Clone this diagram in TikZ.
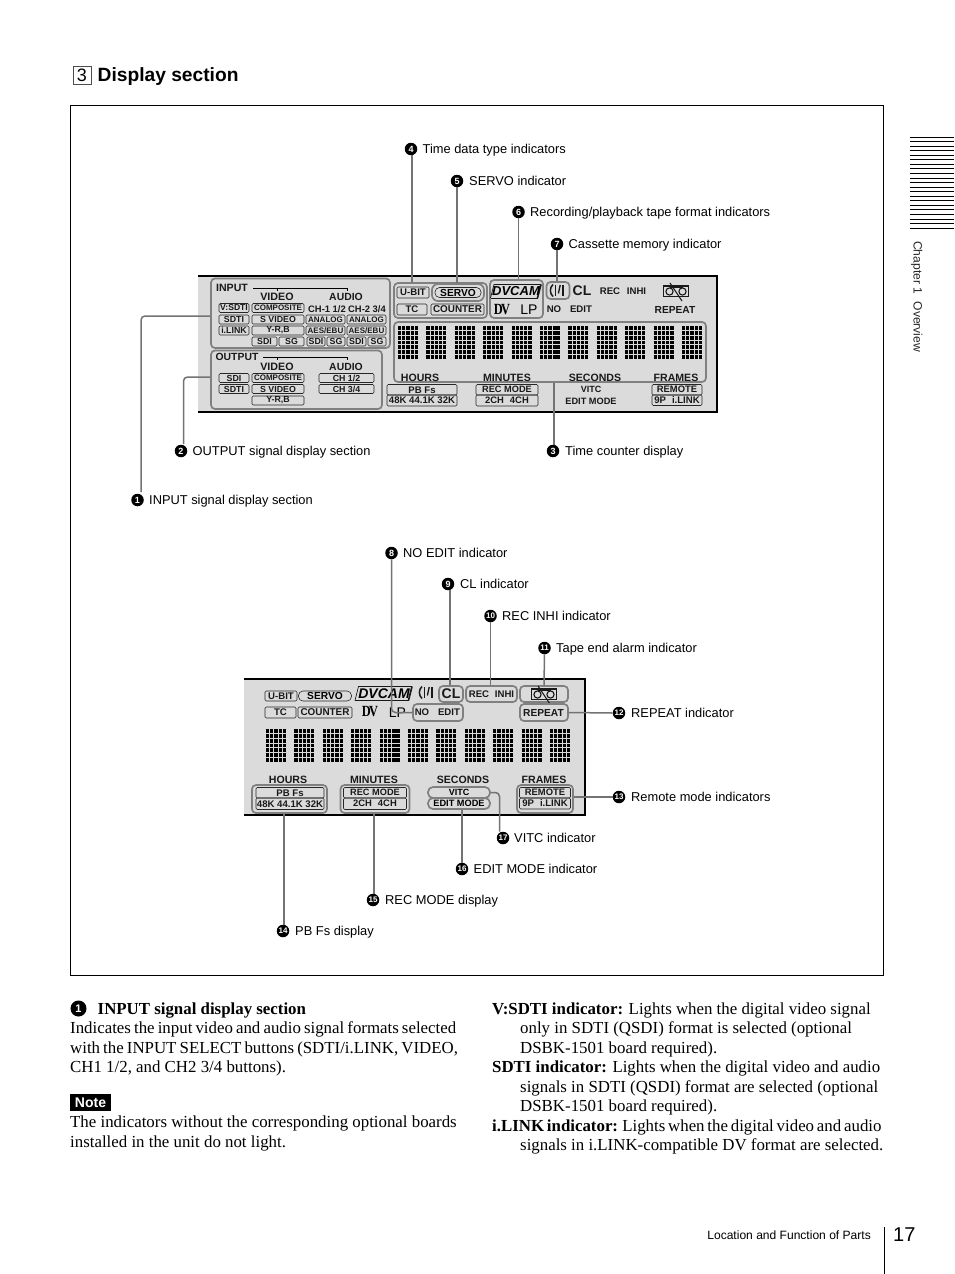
\documentclass[tikz,border=0pt]{standalone}
\usepackage{fontspec}
\setmainfont{Liberation Serif}
\setsansfont{Liberation Sans}
\newcommand{\fsz}[1]{\fontsize{#1}{#1}\selectfont}
\newcommand{\sbf}[1]{\sffamily\bfseries\fsz{#1}}
\newcommand{\tightsp}[1]{\spaceskip #1pt\relax}
\tikzset{
  dispbox/.style={draw=black!85,line width=0.6pt,rounded corners=1.2pt,inner sep=0pt,fill=none,text=black!90,font=\sbf{8.8}},
  grp/.style={draw=black!50,line width=1.7pt,rounded corners=4pt,inner sep=0pt},
  stad/.style={draw=black!85,line width=0.6pt,rounded corners=4.5pt,inner sep=0pt,font=\sbf{10.2}},
  dlabel/.style={inner sep=0pt,text=black!90,font=\sbf{9.6}},
  bigl/.style={inner sep=0pt,text=black!90,font=\sbf{10.6}},
  leader/.style={draw=black!55,line width=1.5pt,rounded corners=4pt},
  numc/.style={circle,fill=black,text=white,inner sep=0pt,minimum size=12.5pt,font=\sbf{9}},
  numcc/.style={numc,font=\sbf{8}},
  call/.style={anchor=base west,inner sep=0pt,font=\sffamily\fsz{12.85}},
  body/.style={anchor=base west,inner sep=0pt,font=\fsz{16.85}},
  frameline/.style={draw=black,line width=0.9pt},
  dotrow/.style={line width=3.9pt,dash pattern=on 3.25pt off 0.95pt,black},
  panelbg/.style={fill=black!14,draw=none},
  edgeline/.style={draw=black,line width=1.3pt}
}
% name, x1, y1, x2, y2, text
\newcommand{\bx}[7][]{%
  \pgfmathsetmacro{\bw}{#5-#3}\pgfmathsetmacro{\bh}{#6-#4}%
  \node[dispbox,minimum width=\bw pt,minimum height=\bh pt,#1] (#2) at ({(#3+#5)/2},{(#4+#6)/2}) {#7};}
\newcommand{\gp}[6][grp]{%
  \pgfmathsetmacro{\bw}{#5-#3}\pgfmathsetmacro{\bh}{#6-#4}%
  \node[#1,minimum width=\bw pt,minimum height=\bh pt] (#2) at ({(#3+#5)/2},{(#4+#6)/2}) {};}
% digit at x,y ; #3 = 1 when right part solid
\newcommand{\digit}[3]{%
  \foreach \r in {0,...,6}{%
    \draw[dotrow] (#1,{#2+1.95+\r*4.85}) -- ++(20.2,0);
    \ifnum#3=1 \fill[black] ({#1+12.6},{#2+\r*4.85}) rectangle ++(7.6,3.9);\fi
  }}
\newcommand{\cmglyph}[2]{%
  \begin{scope}[shift={(#1,#2)}]
    \draw[line width=1.5pt,black!90] (-5,-6) .. controls (-8.5,-3) and (-8.5,3) .. (-5,6);
    \draw[line width=1.3pt,black!90] (-2.6,-5.5) -- (-2.6,5.5);
    \draw[line width=1.3pt,black!90] (2.2,-5.5) -- (0.4,3);
    \draw[line width=1.3pt,black!90] (5,-5.5) -- (5,5.5);
  \end{scope}}
\newcommand{\tapeicon}[2]{%
  \begin{scope}[shift={(#1,#2)}]
    \draw[line width=1.1pt,black!90] (-12.5,-5) rectangle (12.5,5.5);
    \draw[line width=1.1pt,black!90] (-6.5,0.5) circle (3.6pt);
    \draw[line width=1.1pt,black!90] (6.5,0.5) circle (3.6pt);
    \draw[line width=1.1pt,black!90] (-6.5,-3.1) -- (6.5,-3.1);
    \draw[line width=1pt,black!90] (-6,-8) -- (6,10);
  \end{scope}}
\begin{document}
\begin{tikzpicture}[x=1pt,y=-1pt]
\useasboundingbox[fill=white] (0,0) rectangle (954,1274);

% heading
\node[draw=black!70,line width=0.9pt,minimum width=18pt,minimum height=18pt,inner sep=0pt,font=\sffamily\fsz{18}] (secno) at (82,75) {3};
\node[anchor=base west,inner sep=0pt,font=\sbf{19.2}] (sectitle) at (97.5,81.5) {Display section};

% frame
\node[frameline,draw,minimum width=813pt,minimum height=870pt,inner sep=0pt] (outer) at (477,540) {};

% side tab
\foreach \k in {0,...,20}{\draw[black,line width=0.8pt] (910,{137+\k*4.55}) -- (954,{137+\k*4.55});}
\node[rotate=-90,anchor=base west,inner sep=0pt,font=\sffamily\fsz{12.1},text=black!85] (chap) at (913.5,241) {Chapter 1\hspace{4pt} Overview};

% ==== top panel
\fill[panelbg] (198,276) rectangle (717,412);
\draw[edgeline] (198,276) -- (717,276) -- (717,412) -- (198,412);

\gp{inputgrp}{211}{278.5}{390}{348}
\gp{outputgrp}{211}{350.5}{382}{409}
\gp{tcgrp}{394}{283}{487}{318}
\gp{tapefmt}{490}{280}{543}{318}
\gp{cmgrp}{546.5}{282}{569.5}{299}
\gp{timegrp}{394}{322}{706}{382}

\node[dlabel,font=\sbf{10.6}] (tinput) at (232,287.5) {INPUT};
\draw[black,line width=0.5pt] (253,288) -- (347,288) -- (347,290.5);
\draw[black,line width=0.5pt] (277,288) -- (277,290.5);
\node[dlabel,font=\sbf{10.7}] (tiv) at (277,297) {VIDEO};
\node[dlabel,font=\sbf{10.4}] (tia) at (346,297) {AUDIO};
\node[dlabel,font=\sbf{9.4}] (ch1) at (327,309) {CH-1 1/2};
\node[dlabel,font=\sbf{9.4}] (ch2) at (367,309) {CH-2 3/4};

\bx[font=\sbf{8.6}]{a1}{219}{303.5}{249}{312.5}{V:SDTI}
\bx[font=\sbf{8}]{a2}{252}{303.5}{304}{312.5}{COMPOSITE}
\bx{b1}{219}{315}{249}{324}{SDTI}
\bx{b2}{252}{315}{304}{324}{S VIDEO}
\bx[font=\sbf{8}]{b3}{306}{315}{345}{324}{ANALOG}
\bx[font=\sbf{8}]{b4}{347}{315}{386}{324}{ANALOG}
\bx{c1}{219}{326}{249}{335}{i.LINK}
\bx{c2}{252}{326}{304}{335}{Y-R,B}
\bx[font=\sbf{8}]{c3}{306}{326}{345}{335}{AES/EBU}
\bx[font=\sbf{8}]{c4}{347}{326}{386}{335}{AES/EBU}
\bx{d1}{252}{337}{277}{346}{SDI}
\bx{d2}{279}{337}{304}{346}{SG}
\bx{d3}{307}{337}{325}{346}{SDI}
\bx{d4}{327}{337}{345}{346}{SG}
\bx{d5}{347}{337}{366}{346}{SDI}
\bx{d6}{368}{337}{386}{346}{SG}

\node[dlabel,font=\sbf{10.4}] (toutput) at (237,357) {OUTPUT};
\draw[black,line width=0.5pt] (263,357.5) -- (347,357.5) -- (347,360);
\draw[black,line width=0.5pt] (277,357.5) -- (277,360);
\node[dlabel,font=\sbf{10.7}] (tov) at (277,367) {VIDEO};
\node[dlabel,font=\sbf{10.4}] (toa) at (346,367) {AUDIO};
\bx{e1}{219}{373.5}{249}{382.5}{SDI}
\bx[font=\sbf{8}]{e2}{252}{373.5}{304}{382.5}{COMPOSITE}
\bx{e3}{319}{373.5}{374}{382.5}{CH 1/2}
\bx{f1}{219}{384.5}{249}{393.5}{SDTI}
\bx{f2}{252}{384.5}{304}{393.5}{S VIDEO}
\bx{f3}{319}{384.5}{374}{393.5}{CH 3/4}
\bx{g2}{252}{396}{304}{405}{Y-R,B}

\bx[font=\sbf{9.6}]{ubit}{397}{287}{429}{298}{U-BIT}
\node[stad,grp,rounded corners=6pt,minimum width=52pt,minimum height=17pt] (servogrp) at (458,292.5) {};
\node[stad,minimum width=46pt,minimum height=10pt] (servo) at (458,292.5) {SERVO};
\bx[font=\sbf{9.6}]{tc}{397}{304}{427}{315}{TC}
\bx[font=\sbf{9.9}]{counter}{431}{304}{484}{315}{COUNTER}

\draw[black!90,line width=0.7pt] (490.5,298) -- (494,284.5) -- (541,284.5);
\draw[black!90,line width=1.6pt] (541,284.5) -- (537.5,298);
\draw[black!90,line width=0.7pt] (537.5,298) -- (490.5,298);
\node[inner sep=0pt,font=\sffamily\bfseries\itshape\fsz{13}] (dvcam) at (516,291) {DVCAM};
\node[inner sep=0pt,xscale=0.8,font=\rmfamily\bfseries\fsz{15.5}] (dvlogo) at (502,310) {D\kern-2pt V};
\node[inner sep=0pt,font=\sffamily\fsz{14}] (lp) at (529,310) {LP};
\cmglyph{558}{290.5}
\node[bigl,font=\sbf{14}] (cl) at (582,291) {CL};
\node[dlabel,font=\sbf{9.6}] (rec) at (610,291) {REC};
\node[dlabel,font=\sbf{9.6}] (inhi) at (636.5,291) {INHI};
\tapeicon{676}{291}
\node[dlabel] (no) at (554,309.5) {NO};
\node[dlabel] (edit) at (581,309.5) {EDIT};
\node[dlabel,font=\sbf{10.2}] (repeat) at (675,309.5) {REPEAT};

\foreach \k in {0,...,10}{
  \ifnum\k=5 \digit{398+\k*28.4}{326}{1}\else \digit{398+\k*28.4}{326}{0}\fi
}
\node[bigl] (hh) at (420,377.5) {HOURS};
\node[bigl] (mm) at (507,377.5) {MINUTES};
\node[bigl] (ss) at (595,377.5) {SECONDS};
\node[bigl] (ff) at (676,377.5) {FRAMES};

\bx[font=\sbf{9.6}]{pb}{387}{384.5}{457}{395}{PB Fs}
\bx[font=\sbf{9.6}]{pbv}{387}{395}{457}{406}{48K 44.1K 32K}
\bx[font=\sbf{9.2}]{rm}{476}{384.5}{538}{395}{REC MODE}
\bx[font=\sbf{9.4}]{rmv}{476}{395}{538}{406}{2CH\hspace{6pt}4CH}
\node[dlabel,font=\sbf{9}] (vitc) at (591,389.5) {VITC};
\node[dlabel,font=\sbf{9.2}] (editm) at (591,401) {EDIT MODE};
\bx[font=\sbf{9.4}]{rem}{652}{384.5}{702}{395}{REMOTE}
\bx[font=\sbf{9.6}]{remv}{652}{395}{702}{405.5}{9P\hspace{6pt}i.LINK}

% ==== bottom panel
\fill[panelbg] (244,679) rectangle (585,815);
\draw[edgeline] (244,679) -- (585,679) -- (585,815) -- (244,815);

\bx[font=\sbf{9.6}]{ubitb}{265}{691}{297}{701}{U-BIT}
\node[stad,minimum width=53pt,minimum height=10pt] (servob) at (325,696) {SERVO};
\draw[black!90,line width=0.7pt] (355,700.5) -- (358.5,686.5) -- (412,686.5);
\draw[black!90,line width=1.6pt] (412,686.5) -- (408.5,700.5);
\draw[black!90,line width=0.7pt] (408.5,700.5) -- (355,700.5);
\node[inner sep=0pt,font=\sffamily\bfseries\itshape\fsz{14}] (dvcamb) at (384,693.5) {DVCAM};
\bx[font=\sbf{9.6}]{tcb}{265}{707}{296}{718}{TC}
\bx[font=\sbf{9.9}]{counterb}{298}{707}{352}{718}{COUNTER}
\node[inner sep=0pt,xscale=0.8,font=\rmfamily\bfseries\fsz{15.5}] (dvlogob) at (370,712) {D\kern-2pt V};
\node[inner sep=0pt,font=\sffamily\fsz{14}] (lpb) at (397.5,712.5) {LP};
\cmglyph{427}{692.5}

\gp{clgrp}{439}{686}{463}{702}
\node[bigl,font=\sbf{14}] (clb) at (451,694) {CL};
\gp{recgrp}{466}{686}{517}{702}
\node[dlabel,font=\sbf{9.6}] (recb) at (479,694) {REC};
\node[dlabel,font=\sbf{9.6}] (inhib) at (504.5,694) {INHI};
\gp{tapegrp}{520}{686}{568}{702}
\tapeicon{544}{694}
\gp{noedit}{413}{704}{463}{721}
\node[dlabel] (nob) at (422,712.5) {NO};
\node[dlabel] (editb) at (449,712.5) {EDIT};
\gp{repgrp}{520}{704}{568}{721}
\node[dlabel,font=\sbf{10.2}] (repeatb) at (543.5,712.5) {REPEAT};

\foreach \k in {0,...,10}{
  \ifnum\k=4 \digit{266+\k*28.4}{729}{1}\else \digit{266+\k*28.4}{729}{0}\fi
}
\node[bigl] (hhb) at (288,780) {HOURS};
\node[bigl] (mmb) at (374,780) {MINUTES};
\node[bigl] (ssb) at (463,780) {SECONDS};
\node[bigl] (ffb) at (544,780) {FRAMES};

\gp{pbgrp}{252}{785}{327}{813}
\bx[font=\sbf{9.6}]{pbb}{256}{787.5}{324}{798}{PB Fs}
\bx[font=\sbf{9.6}]{pbvb}{256}{798}{324}{809.5}{48K 44.1K 32K}
\gp{rmgrp}{340.5}{785}{409.5}{813}
\bx[font=\sbf{9.2}]{rmb}{343.5}{787.5}{406.5}{798}{REC MODE}
\bx[font=\sbf{9.4}]{rmvb}{343.5}{798}{406.5}{809.5}{2CH\hspace{6pt}4CH}
\node[stad,grp,font=\sbf{9},minimum width=62pt,minimum height=11pt,rounded corners=5pt] (vitcb) at (459,792.5) {VITC};
\node[stad,grp,font=\sbf{9.2},minimum width=62pt,minimum height=11pt,rounded corners=5pt] (editmb) at (459,803.5) {EDIT MODE};
\gp{remgrp}{517}{785}{573}{813}
\bx[font=\sbf{9.4}]{remb}{519.5}{787.5}{570.5}{798}{REMOTE}
\bx[font=\sbf{9.6}]{remvb}{519.5}{798}{570.5}{809}{9P\hspace{6pt}i.LINK}

% ==== callouts
\node[numc] (n1) at (137.5,500) {1};
\node[call] (l1) at (149,504.5) {INPUT signal display section};
\node[numc] (n2) at (181,451) {2};
\node[call] (l2) at (192.5,455.5) {OUTPUT signal display section};
\node[numc] (n3) at (553,451) {3};
\node[call] (l3) at (565,455.5) {Time counter display};
\node[numc] (n4) at (411,149) {4};
\node[call] (l4) at (422.5,153.5) {Time data type indicators};
\node[numc] (n5) at (457,181) {5};
\node[call] (l5) at (469,185.5) {SERVO indicator};
\node[numc] (n6) at (518.5,212) {6};
\node[call] (l6) at (530,216.5) {Recording/playback tape format indicators};
\node[numc] (n7) at (557,244) {7};
\node[call] (l7) at (568.5,248.5) {Cassette memory indicator};
\node[numc] (n8) at (391.5,553) {8};
\node[call] (l8) at (403,557.5) {NO EDIT indicator};
\node[numc] (n9) at (448,584) {9};
\node[call] (l9) at (460,588.5) {CL indicator};
\node[numcc] (n10) at (490.5,616) {10};
\node[call] (l10) at (502,620.5) {REC INHI indicator};
\node[numcc] (n11) at (544.5,648) {11};
\node[call] (l11) at (556,652.5) {Tape end alarm indicator};
\node[numcc] (n12) at (619,713) {12};
\node[call] (l12) at (631,717.5) {REPEAT indicator};
\node[numcc] (n13) at (619,797) {13};
\node[call] (l13) at (631,801.5) {Remote mode indicators};
\node[numcc] (n14) at (283,931) {14};
\node[call] (l14) at (295,935.5) {PB Fs display};
\node[numcc] (n15) at (373,900) {15};
\node[call] (l15) at (385,904.5) {REC MODE display};
\node[numcc] (n16) at (462,869) {16};
\node[call] (l16) at (473.5,873.5) {EDIT MODE indicator};
\node[numcc] (n17) at (503,838) {17};
\node[call] (l17) at (514,842.5) {VITC indicator};

% leaders
\coordinate (e1) at (141,492);
\coordinate (e2) at (183.5,444);
\draw[leader] (inputgrp.west |- 0,316) -| (e1);
\draw[leader] (outputgrp.west |- 0,377) -| (e2);
\draw[leader] ([xshift=1pt]n3.north |- timegrp.south) -- ([xshift=1pt]n3.north);
\draw[leader] ([xshift=1pt]n4.south) -- ([xshift=1pt]n4.south |- tcgrp.north);
\draw[leader] (n5.south) -- (n5.south |- servogrp.north);
\draw[leader] (n6.south) -- (n6.south |- tapefmt.north);
\draw[leader] (n7.south) -- (n7.south |- cmgrp.north);
\draw[leader] (n8.south) |- (noedit.west);
\draw[leader] ([xshift=2pt]n9.south) -- ([xshift=2pt]n9.south |- clgrp.north);
\draw[leader] (n10.south) -- (n10.south |- recgrp.north);
\draw[leader] (n11.south) -- (tapegrp.north);
\draw[leader] (repgrp.east) -- (n12.west);
\draw[leader] (remgrp.east |- n13.west) -- (n13.west);
\draw[leader] ([xshift=1pt]n14.north |- pbgrp.south) -- ([xshift=1pt]n14.north);
\draw[leader] ([xshift=1pt]n15.north |- rmgrp.south) -- ([xshift=1pt]n15.north);
\draw[leader] (n16.north |- editmb.south) -- (n16.north);
\draw[leader] (vitcb.east) -| ([xshift=-3.5pt]n17.north);

% ==== body text
\node[numc,minimum size=16pt,font=\sbf{11}] (n1b) at (78.5,1008.5) {1};
\node[body,font=\fsz{16.85}\bfseries] (h1) at (97.5,1014) {INPUT signal display section};
\node[body] (p1a) at (70,1033) {\tightsp{3.1}Indicates the input video and audio signal formats selected};
\node[body] (p1b) at (70,1053) {\tightsp{3.1}with the INPUT SELECT buttons (SDTI/i.LINK, VIDEO,};
\node[body] (p1c) at (70,1072) {CH1 1/2, and CH2 3/4 buttons).};
\node[fill=black,text=white,inner sep=0pt,minimum width=41pt,minimum height=17pt,font=\sbf{14}] (note) at (90.5,1102.5) {Note};
\node[body] (p2a) at (70,1127) {The indicators without the corresponding optional boards};
\node[body] (p2b) at (70,1147) {installed in the unit do not light.};

\node[body] (r1) at (492,1014) {\textbf{V:SDTI indicator:} Lights when the digital video signal};
\node[body] (r2) at (520,1033) {only in SDTI (QSDI) format is selected (optional};
\node[body] (r3) at (520,1053) {DSBK-1501 board required).};
\node[body] (r4) at (492,1072) {\textbf{SDTI indicator:} Lights when the digital video and audio};
\node[body] (r5) at (520,1092) {signals in SDTI (QSDI) format are selected (optional};
\node[body] (r6) at (520,1111) {DSBK-1501 board required).};
\node[body] (r7) at (492,1131) {\tightsp{2.8}\textbf{i.LINK indicator:} Lights when the digital video and audio};
\node[body] (r8) at (520,1150) {signals in i.LINK-compatible DV format are selected.};

% footer
\node[anchor=base east,inner sep=0pt,font=\sffamily\fsz{12.05}] (foot) at (871,1239) {Location and Function of Parts};
\node[anchor=base west,inner sep=0pt,font=\sffamily\fsz{20}] (pageno) at (893,1241) {17};
\coordinate (ft) at (884,1227);
\coordinate (fb) at (884,1274);
\draw[black,line width=0.9pt] (ft) -- (fb);
\end{tikzpicture}
\end{document}
